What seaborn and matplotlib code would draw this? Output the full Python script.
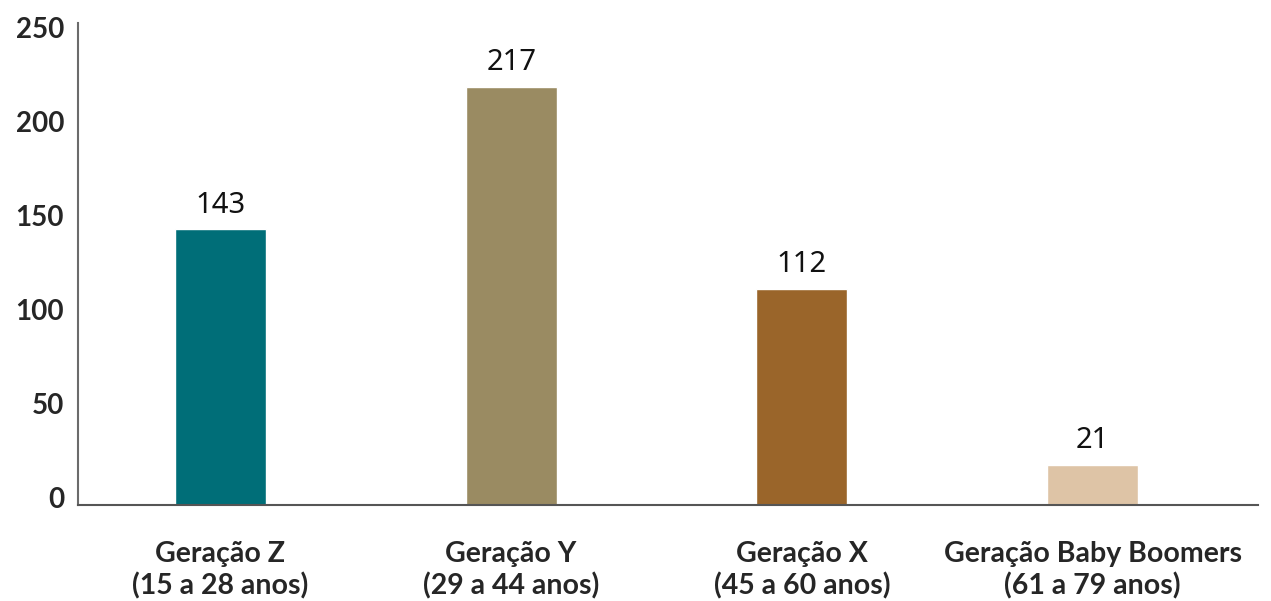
import pandas as pd
import seaborn as sns
import matplotlib.pyplot as plt
from matplotlib.transforms import ScaledTranslation

categorias = [
    "Geração Z\n(15 a 28 anos)",
    "Geração Y\n(29 a 44 anos)",
    "Geração X\n(45 a 60 anos)",
    "Geração Baby Boomers\n(61 a 79 anos)",
]
respondentes = [143, 217, 112, 21]
cores = ["#006E78", "#9A8B62", "#9A652A", "#DEC4A6"]
yticks = [0, 50, 100, 150, 200, 250]

df = pd.DataFrame({"geracao": categorias, "n": respondentes})

sns.set_style("white")
plt.rcParams["font.family"] = ["Lato", "DejaVu Sans"]

fig = plt.figure(figsize=(12.71, 6.01), dpi=100)
ax = fig.add_axes([78 / 1271, 1 - 505 / 601, 1180 / 1271, 482 / 601])

sns.barplot(
    data=df, x="geracao", y="n", hue="geracao", palette=cores,
    dodge=False, legend=False, width=0.313, saturation=1, ax=ax,
)

for c in ax.containers:
    ax.bar_label(c, padding=7, fontsize=21, family=["Noto Sans", "DejaVu Sans"], color="#111111")

ax.set(xlabel="", ylabel="", ylim=(0, 250), xlim=(-0.49, 3.569))
ax.set_yticks(yticks)
ax.tick_params(axis="both", length=0)
ax.tick_params(axis="y", pad=10, labelsize=20)
ax.tick_params(axis="x", pad=26, labelsize=20.5)

# labels in the original sit a bit off the gridline positions
for v, lab in zip(yticks, ax.get_yticklabels()):
    lab.set_fontweight("bold")
    dy = (8 - 13 * v / 250) / 100
    lab.set_transform(lab.get_transform() + ScaledTranslation(0, dy, fig.dpi_scale_trans))
for lab in ax.get_xticklabels():
    lab.set_fontweight("bold")
    lab.set_linespacing(1.25)

sns.despine(ax=ax)
ax.spines["left"].set_color("#6b6b6b")
ax.spines["left"].set_linewidth(1.5)
ax.spines["bottom"].set_color("#555555")
ax.spines["bottom"].set_linewidth(1.5)

fig.savefig("out.png", dpi=100)
